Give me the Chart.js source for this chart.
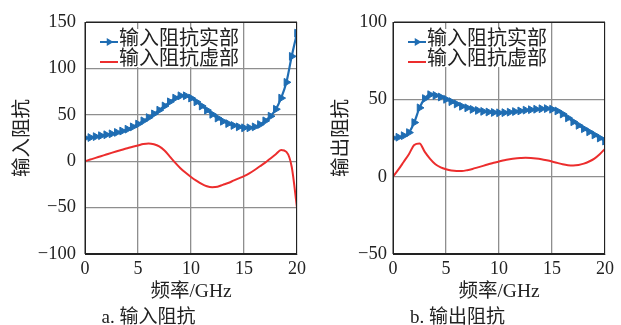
<!DOCTYPE html>
<html>
<head>
<meta charset="utf-8">
<script src="https://cdn.jsdelivr.net/npm/chart.js@4"></script>
<style>
  html, body { margin: 0; padding: 0; background: #fff; }
  .panel { position: absolute; top: 0; height: 325px; }
  #panelA { left: 0; width: 310px; }
  #panelB { left: 310px; width: 311px; }
</style>
</head>
<body>
<div class="panel" id="panelA"><canvas id="chartA"></canvas></div>
<div class="panel" id="panelB"><canvas id="chartB"></canvas></div>
<script>
// frequency in GHz
const freq = [0, 0.5, 1, 1.5, 2, 2.5, 3, 3.5, 4, 4.5, 5, 5.5, 6, 6.5, 7, 7.5, 8, 8.5, 9, 9.5,
              10, 10.5, 11, 11.5, 12, 12.5, 13, 13.5, 14, 14.5, 15, 15.5, 16, 16.5, 17, 17.5, 18, 18.5, 19, 19.5, 20];

// a. input impedance
const inReal = [25, 25.5, 26.5, 27.5, 28.5, 29.5, 31, 32.5, 34.5, 37, 40, 43.5, 47, 51, 55, 59.5, 64, 68, 70.5, 70.5,
                68, 64, 59.5, 55, 50.5, 46.5, 43, 40.5, 38.5, 37, 36, 36, 37, 39.5, 43.5, 48.5, 56, 68, 85, 113, 138];
const inImag = [0, 1.8, 3.6, 5.4, 7.2, 9, 10.7, 12.3, 14, 15.5, 17, 18.5, 19.2, 18.3, 16, 11.5, 5, -1.5, -7.5, -12.5,
                -17, -21, -24.5, -27, -28, -27.5, -25.5, -23.5, -21, -18.5, -16, -13, -9.5, -5.5, -1.5, 3, 7.5, 12, 10, -6, -50];

// b. output impedance
const outReal = [25, 25.5, 26.5, 28.5, 35, 44.5, 50.5, 53, 52.5, 51.5, 50, 48.5, 47, 45.5, 44.5, 43.5, 42.8, 42.2, 41.8, 41.5,
                 41.3, 41.4, 41.7, 42.1, 42.5, 43, 43.3, 43.6, 43.9, 44, 43.6, 42.5, 40.5, 38, 35.5, 33.2, 31, 29, 27, 25, 23];
const outImag = [0, 4.5, 9.5, 14.5, 20.5, 21.5, 16, 11.5, 8, 6, 4.8, 4, 3.7, 3.7, 4.2, 5, 6, 7, 8, 9,
                 9.8, 10.6, 11.2, 11.7, 12, 12.2, 12.1, 11.8, 11.3, 10.6, 9.8, 8.9, 8, 7.4, 7.2, 7.5, 8.4, 9.8, 11.7, 14.5, 18];

const seriesNames = ["输入阻抗实部", "输入阻抗虚部"];

const FONT = "'Liberation Serif', 'Noto Sans CJK SC', serif";
const BLUE = "#1f6db3";
const RED = "#ec2d2d";

const frame = {
    id: "frame",
    afterDatasetsDraw(chart) {
        const a = chart.chartArea;
        const ctx = chart.ctx;
        // legend box inside plot
        const left = a.left, top = a.top;
        ctx.save();
        ctx.font = "20px " + FONT;
        const w = Math.max(...chart.data.datasets.map(d => ctx.measureText(d.label).width));
        ctx.fillStyle = "#fff";
        ctx.fillRect(left + 1, top + 7, 34 + w - 5, 38);
        chart.data.datasets.forEach((d, i) => {
            const y = top + 20 + i * 20;
            ctx.strokeStyle = d.borderColor;
            ctx.lineWidth = 2;
            ctx.beginPath();
            ctx.moveTo(left + 15, y);
            ctx.lineTo(left + 33, y);
            ctx.stroke();
            if (d.pointRadius > 0) {
                const x = left + 24, r = 4.5;
                ctx.fillStyle = d.borderColor;
                ctx.beginPath();
                ctx.moveTo(x + r, y);
                ctx.lineTo(x - r / 2, y - r * 0.87);
                ctx.lineTo(x - r / 2, y + r * 0.87);
                ctx.closePath();
                ctx.fill();
            }
            ctx.fillStyle = "#222";
            ctx.textBaseline = "middle";
            ctx.fillText(d.label, left + 34, y - 2.5);
        });
        ctx.strokeStyle = "#222";
        ctx.lineWidth = 1;
        ctx.strokeRect(a.left + 0.5, a.top + 0.5, a.right - a.left - 1, a.bottom - a.top - 1);
        ctx.restore();
    }
};

function makeChart(id, real, imag, o) {
    return new Chart(document.getElementById(id), {
        type: "line",
        data: {
            datasets: [{
                label: seriesNames[0],
                data: freq.map((f, i) => ({ x: f, y: real[i] })),
                borderColor: BLUE,
                backgroundColor: BLUE,
                pointBackgroundColor: BLUE,
                pointBorderColor: BLUE,
                pointStyle: "triangle",
                pointRotation: 90,
                pointRadius: 4.5,
                pointBorderWidth: 1,
                borderWidth: 2.2,
                cubicInterpolationMode: "monotone"
            }, {
                label: seriesNames[1],
                data: freq.map((f, i) => ({ x: f, y: imag[i] })),
                borderColor: RED,
                backgroundColor: RED,
                pointRadius: 0,
                borderWidth: 2,
                cubicInterpolationMode: "monotone"
            }]
        },
        options: {
            responsive: true,
            maintainAspectRatio: false,
            animation: false,
            layout: { padding: { left: 0, right: o.padRight, top: 22, bottom: 0 } },
            plugins: {
                legend: { display: false },
                tooltip: { enabled: false },
                title: {
                    display: true,
                    position: "bottom",
                    text: o.caption,
                    color: "#222",
                    font: { family: FONT, size: 19, weight: "normal", lineHeight: 0.7 },
                    padding: 0
                }
            },
            scales: {
                x: {
                    type: "linear",
                    min: 0,
                    max: 20,
                    afterFit: s => { s.height = 57.7; },
                    ticks: { stepSize: 5, padding: 4, color: "#222", font: { family: FONT, size: 18 } },
                    grid: { color: "#8e8e8e", lineWidth: 1.3, drawTicks: false },
                    border: { color: "#222" },
                    title: {
                        display: true,
                        text: "频率/GHz",
                        color: "#222",
                        font: { family: FONT, size: 19.5 },
                        padding: { top: 0, bottom: 8 }
                    }
                },
                y: {
                    min: o.yMin,
                    max: o.yMax,
                    afterFit: s => { s.width = o.axisWidth; },
                    ticks: {
                        stepSize: 50,
                        padding: o.tickPad,
                        color: "#222",
                        font: { family: FONT, size: 18.5 },
                        callback: v => v < 0 ? "\u2212" + Math.abs(v) : v
                    },
                    grid: { color: "#8e8e8e", lineWidth: 1.3, drawTicks: false },
                    border: { color: "#222" },
                    title: {
                        display: true,
                        text: o.yTitle,
                        color: "#222",
                        font: { family: FONT, size: 19.5 },
                        padding: { top: o.titlePad, bottom: 0 }
                    }
                }
            }
        },
        plugins: [frame]
    });
}

makeChart("chartA", inReal, inImag, {
    yMin: -100, yMax: 150, yTitle: "输入阻抗", caption: "a. 输入阻抗",
    padRight: 13, axisWidth: 85, tickPad: 9, titlePad: 11
});
makeChart("chartB", outReal, outImag, {
    yMin: -50, yMax: 100, yTitle: "输出阻抗", caption: "b. 输出阻抗",
    padRight: 16, axisWidth: 83, tickPad: 6, titlePad: 20.5
});
</script>
</body>
</html>
